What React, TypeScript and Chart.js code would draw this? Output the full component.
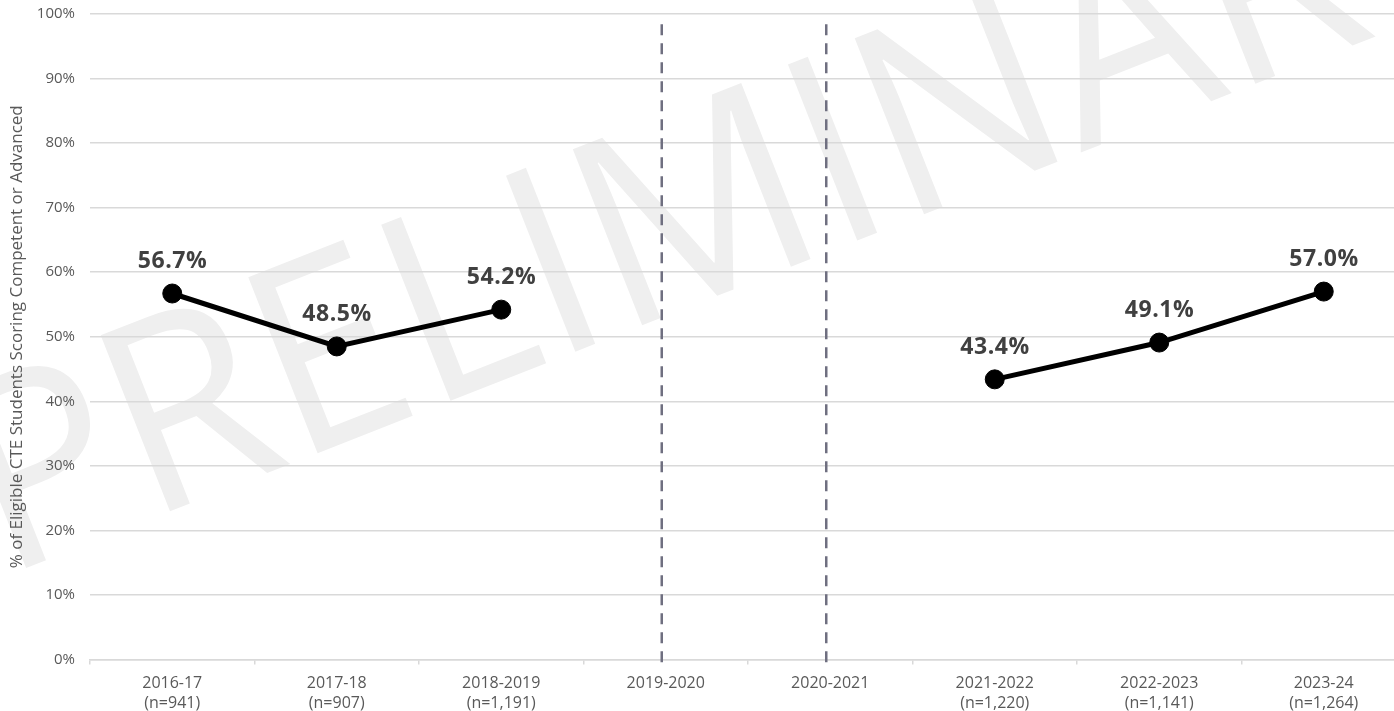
import React, { useEffect, useRef } from 'react';
import { Chart, registerables } from 'chart.js';

Chart.register(...registerables);

// ---- Data ----
const categories = ['2016-17', '2017-18', '2018-2019', '2019-2020', '2020-2021', '2021-2022', '2022-2023', '2023-24'];
const sampleSizes = ['(n=941)', '(n=907)', '(n=1,191)', '', '', '(n=1,220)', '(n=1,141)', '(n=1,264)'];
const percentCompetent: (number | null)[] = [56.7, 48.5, 54.2, null, null, 43.4, 49.1, 57.0];
const dividerCategories = ['2019-2020', '2020-2021'];
const yAxisTitle = '% of Eligible CTE Students Scoring Competent or Advanced';
const watermarkText = 'PRELIMINARY';

const xLabels = categories.map((c, i) => (sampleSizes[i] ? [c, sampleSizes[i]] : [c]));

const watermarkPlugin = {
  id: 'watermark',
  beforeDraw(chart: any) {
    const ctx: CanvasRenderingContext2D = chart.ctx;
    ctx.save();
    ctx.font = '265px "Open Sans"';
    const w = ctx.measureText(watermarkText.slice(0, 9)).width;
    const ang = (-21.5 * Math.PI) / 180;
    const k = 0.97;
    const a = Math.cos(ang) * k;
    const b = Math.sin(ang) * k;
    const c = -Math.sin(ang);
    const d = Math.cos(ang);
    const ox = 1232 - a * w;
    const oy = 93 - b * w;
    ctx.translate(ox, oy);
    ctx.transform(a, b, c, d, 0, 0);
    ctx.fillStyle = '#efefef';
    ctx.textBaseline = 'alphabetic';
    ctx.textAlign = 'left';
    ctx.fillText(watermarkText, 0, 0);
    ctx.restore();
  },
};

const dividerPlugin = {
  id: 'dividers',
  beforeDatasetsDraw(chart: any) {
    const ctx: CanvasRenderingContext2D = chart.ctx;
    const xs = chart.scales.x;
    const ys = chart.scales.y;
    ctx.save();
    ctx.strokeStyle = '#6f6f80';
    ctx.lineWidth = 2.5;
    ctx.setLineDash([11, 8]);
    dividerCategories.forEach((cat) => {
      const idx = categories.indexOf(cat);
      const x = xs.getPixelForValue(idx) - 4;
      ctx.beginPath();
      ctx.moveTo(x, ys.getPixelForValue(98.4));
      ctx.lineTo(x, ys.getPixelForValue(-0.9));
      ctx.stroke();
    });
    ctx.restore();
  },
};

const dataLabelPlugin = {
  id: 'dataLabels',
  afterDatasetsDraw(chart: any) {
    const ctx: CanvasRenderingContext2D = chart.ctx;
    const meta = chart.getDatasetMeta(0);
    ctx.save();
    ctx.font = 'bold 23px "Open Sans"';
    (ctx as any).letterSpacing = '0.6px';
    ctx.fillStyle = '#404040';
    ctx.textAlign = 'center';
    ctx.textBaseline = 'middle';
    meta.data.forEach((pt: any, i: number) => {
      const v = percentCompetent[i];
      if (v === null || v === undefined) return;
      ctx.fillText(v.toFixed(1) + '%', pt.x + 0.3, pt.y - 32);
    });
    ctx.restore();
  },
};

export default function App() {
  const ref = useRef<HTMLCanvasElement>(null);

  useEffect(() => {
    if (!ref.current) return;
    const chart = new Chart(ref.current, {
      type: 'line',
      data: {
        labels: xLabels as any,
        datasets: [
          {
            data: percentCompetent,
            borderColor: '#000000',
            borderWidth: 5,
            pointRadius: 9.5,
            pointBorderWidth: 1,
            pointBackgroundColor: '#000000',
            pointBorderColor: '#000000',
            spanGaps: false,
            tension: 0,
            clip: false as any,
          },
        ],
      },
      options: {
        animation: false,
        responsive: false,
        layout: { autoPadding: false, padding: { top: 14, left: 0, right: 0, bottom: 0 } },
        plugins: {
          legend: { display: false },
          tooltip: { enabled: false },
        },
        scales: {
          x: {
            type: 'category',
            offset: true,
            grid: {
              offset: true,
              drawOnChartArea: false,
              drawTicks: true,
              tickLength: 5,
              color: '#d9d9d9',
              lineWidth: 1.5,
            },
            border: { display: true, color: '#d9d9d9', width: 1.5 },
            ticks: {
              color: '#595959',
              font: { family: 'Open Sans', size: 16, lineHeight: 1.25 },
              padding: 8.5,
              maxRotation: 0,
              autoSkip: false,
            },
            afterFit: (s: any) => {
              s.height = 711 - 659.5;
              s.paddingLeft = 0;
              s.paddingRight = 0;
            },
          },
          y: {
            min: 0,
            max: 100,
            ticks: {
              stepSize: 10,
              callback: (v: any) => v + '%',
              color: '#595959',
              font: { family: 'Open Sans', size: 15 },
              padding: 15,
            },
            grid: { color: '#d9d9d9', lineWidth: 1.5, drawTicks: false },
            border: { display: false },
            title: {
              display: true,
              text: yAxisTitle,
              color: '#595959',
              font: { family: 'Open Sans', size: 17 },
              padding: { top: 6.5, bottom: 0 },
            },
            afterFit: (s: any) => {
              s.width = 90;
              s.paddingTop = 0;
              s.paddingBottom = 0;
            },
          },
        },
      },
      plugins: [watermarkPlugin, dividerPlugin, dataLabelPlugin],
    });
    return () => chart.destroy();
  }, []);

  return (
    <div
      style={{
        position: 'absolute',
        left: 0,
        top: 0,
        width: 1394,
        height: 711,
        overflow: 'hidden',
        background: '#ffffff',
      }}
    >
      <canvas ref={ref} width={1406} height={711} style={{ display: 'block' }} />
    </div>
  );
}
